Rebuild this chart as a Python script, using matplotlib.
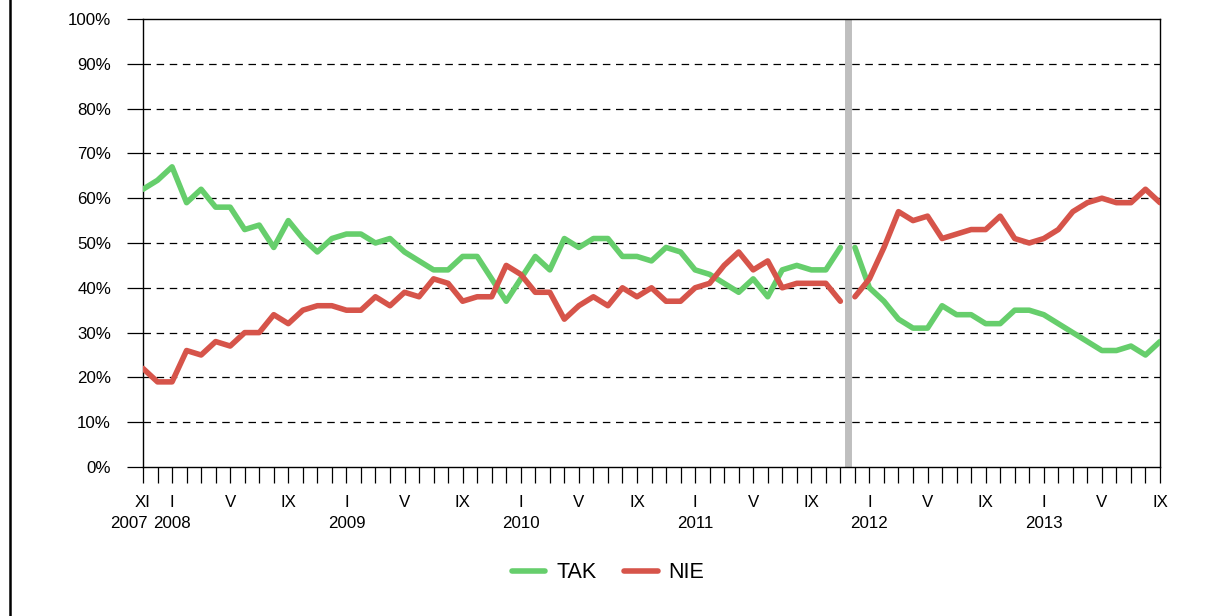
import matplotlib
matplotlib.use("Agg")
import matplotlib.pyplot as plt
from matplotlib.lines import Line2D
import numpy as np

plt.rcParams['font.family'] = ['Liberation Sans', 'DejaVu Sans']

# Monthly data, XI 2007 (index 0) .. IX 2013 (index 70)
tak = [62, 64, 67, 59, 62, 58, 58, 53, 54, 49, 55, 51, 48, 51, 52, 52, 50, 51, 48, 46,
       44, 44, 47, 47, 42, 37, 42, 47, 44, 51, 49, 51, 51, 47, 47, 46, 49, 48, 44, 43,
       41, 39, 42, 38, 44, 45, 44, 44, 49,
       49, 40, 37, 33, 31, 31, 36, 34, 34, 32, 32, 35, 35, 34, 32, 30, 28, 26, 26, 27,
       25, 28]
nie = [22, 19, 19, 26, 25, 28, 27, 30, 30, 34, 32, 35, 36, 36, 35, 35, 38, 36, 39, 38,
       42, 41, 37, 38, 38, 45, 43, 39, 39, 33, 36, 38, 36, 40, 38, 40, 37, 37, 40, 41,
       45, 48, 44, 46, 40, 41, 41, 41, 37,
       38, 42, 49, 57, 55, 56, 51, 52, 53, 53, 56, 51, 50, 51, 53, 57, 59, 60, 59, 59,
       62, 59]
break_after = 48  # series interrupted between index 48 and 49

month_tick_idx = [0, 2, 6, 10, 14, 18, 22, 26, 30, 34, 38, 42, 46, 50, 54, 58, 62, 66, 70]
month_tick_lbl = ["XI", "I", "V", "IX", "I", "V", "IX", "I", "V", "IX", "I", "V", "IX",
                  "I", "V", "IX", "I", "V", "IX"]
year_pos = [-1, 2, 14, 26, 38, 50, 62]
year_lbl = ["2007", "2008", "2009", "2010", "2011", "2012", "2013"]

green = "#66CE6C"
red = "#D6544A"

fig = plt.figure(figsize=(12.08, 6.16), dpi=100)
ax = fig.add_axes([143/1208, 1 - 467/616, (1160 - 143)/1208, (467 - 19)/616])

x = np.arange(len(tak))
n = break_after + 1
lw = 4.0
for seg in (slice(0, n), slice(n, len(tak))):
    ax.plot(x[seg], np.array(tak[seg]), color=green, lw=lw, solid_joinstyle='round',
            solid_capstyle='round', zorder=3)
    ax.plot(x[seg], np.array(nie[seg]), color=red, lw=lw, solid_joinstyle='round',
            solid_capstyle='round', zorder=3)

ax.axvline(break_after + 0.5, color="#BFBFBF", lw=5, zorder=2)

ax.set_xlim(0, len(tak) - 1)
ax.set_ylim(0, 100)

yt = np.arange(0, 101, 10)
ax.set_yticks(yt)
ax.set_yticklabels([f"{v}%" for v in yt], fontsize=12.2)
for v in yt[1:-1]:
    ax.axhline(v, color="black", lw=0.9, ls=(0, (6, 4.5)), zorder=1)

ax.set_xticks(x)
lbls = [""] * len(x)
for i, l in zip(month_tick_idx, month_tick_lbl):
    lbls[i] = l
ax.set_xticklabels(lbls, fontsize=12.2)
ax.tick_params(axis='both', direction='out', length=11.5, width=0.9, color='black',
               pad=8.5)
ax.tick_params(axis='y', pad=11.5)

for p, l in zip(year_pos, year_lbl):
    ax.annotate(l, xy=(p, 0), xycoords=('data', 'axes fraction'),
                xytext=(0, -35.5), textcoords='offset points', ha='center', va='top',
                fontsize=12.2, annotation_clip=False)

for s in ax.spines.values():
    s.set_color('black')
    s.set_linewidth(1.0)

handles = [Line2D([0], [0], color=green, lw=4, solid_capstyle='round'),
           Line2D([0], [0], color=red, lw=4, solid_capstyle='round')]
fig.legend(handles, ["TAK", "NIE"], loc='center', bbox_to_anchor=(608/1208, 1 - 573/616),
           ncol=2, frameon=False, fontsize=15.5, handlelength=1.55, handletextpad=0.5,
           columnspacing=1.3)

fig.add_artist(Line2D([9.5/1208, 9.5/1208], [0, 1], color='black', lw=1.8,
                      transform=fig.transFigure))

fig.savefig("out.png", dpi=100, facecolor='white')
